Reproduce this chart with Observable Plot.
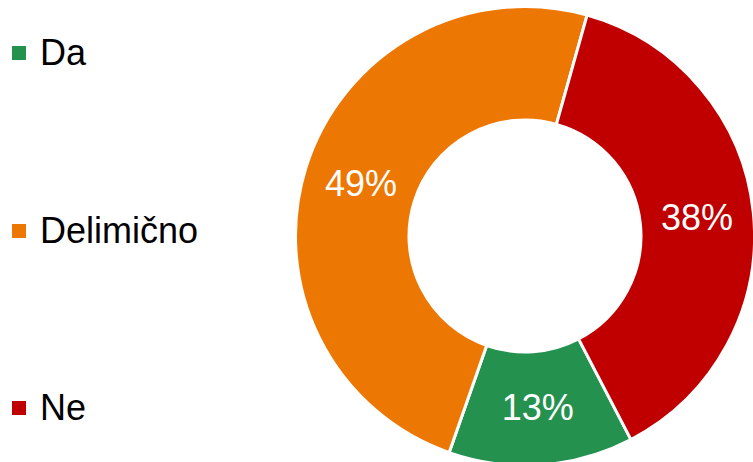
<!DOCTYPE html>
<html>
<head>
<meta charset="utf-8">
<script src="https://cdn.jsdelivr.net/npm/d3@7"></script>
<script src="https://cdn.jsdelivr.net/npm/@observablehq/plot@0.6"></script>
<style>
  html, body { margin: 0; padding: 0; background: #fff; }
  #wrap { position: relative; width: 753px; height: 462px; overflow: hidden; font-family: Arial, "Liberation Sans", sans-serif; }
  #legend { position: absolute; left: 0; top: 0; width: 290px; height: 462px; }
  .item { position: absolute; left: 12px; height: 40px; display: flex; align-items: center; font-size: 36px; color: #000; }
  .sw { width: 14px; height: 14px; margin-right: 14px; }
  #chart { position: absolute; left: 0; top: 0; }
</style>
</head>
<body>
<div id="wrap">
  <div id="chart"></div>
  <div id="legend"></div>
</div>
<script>
const categories = ["Da", "Delimično", "Ne"];
const values = [13, 49, 38];
const labels = ["13%", "49%", "38%"];
const colors = ["#25914f", "#ed7703", "#c00000"];
const legendTops = [33, 211, 388];

const startDeg = 152.5;
const outerR = 229.5, innerR = 116, labelR = 172.5;

const data = categories.map((c, i) => ({category: c, value: values[i], label: labels[i], color: colors[i]}));
const pie = d3.pie().value(d => d.value).sort(null)
  .startAngle(startDeg * Math.PI / 180)
  .endAngle(startDeg * Math.PI / 180 + 2 * Math.PI);
const arcs = pie(data);
const slices = arcs.map(a => {
  const mid = (a.startAngle + a.endAngle) / 2;
  return {...a.data, startAngle: a.startAngle, endAngle: a.endAngle,
          lx: labelR * Math.sin(mid), ly: labelR * Math.cos(mid)};
});

function donutMark(index, scales) {
  const cx = scales.x(0), cy = scales.y(0);
  const ro = scales.x(outerR) - cx, ri = scales.x(innerR) - cx;
  const arc = d3.arc().innerRadius(ri).outerRadius(ro);
  const g = d3.create("svg:g").attr("transform", `translate(${cx},${cy})`);
  g.selectAll("path").data(slices).join("path")
    .attr("d", d => arc(d))
    .attr("fill", d => d.color)
    .attr("stroke", "#fff")
    .attr("stroke-width", 3)
    .attr("stroke-linejoin", "round");
  return g.node();
}

const plot = Plot.plot({
  width: 753,
  height: 462,
  margin: 0,
  x: {domain: [-525, 228], range: [0, 753], axis: null},
  y: {domain: [-226, 236], range: [462, 0], axis: null},
  style: {background: "transparent", fontFamily: "Arial, 'Liberation Sans', sans-serif"},
  marks: [
    donutMark,
    Plot.text(slices, {x: "lx", y: "ly", text: "label", fill: "#fff", fontSize: 36, textAnchor: "middle"})
  ]
});
document.getElementById("chart").appendChild(plot);

const legend = document.getElementById("legend");
data.forEach((d, i) => {
  const item = document.createElement("div");
  item.className = "item";
  item.style.top = legendTops[i] + "px";
  const sw = document.createElement("div");
  sw.className = "sw";
  sw.style.background = d.color;
  const t = document.createElement("span");
  t.textContent = d.category;
  item.appendChild(sw);
  item.appendChild(t);
  legend.appendChild(item);
});
</script>
</body>
</html>
